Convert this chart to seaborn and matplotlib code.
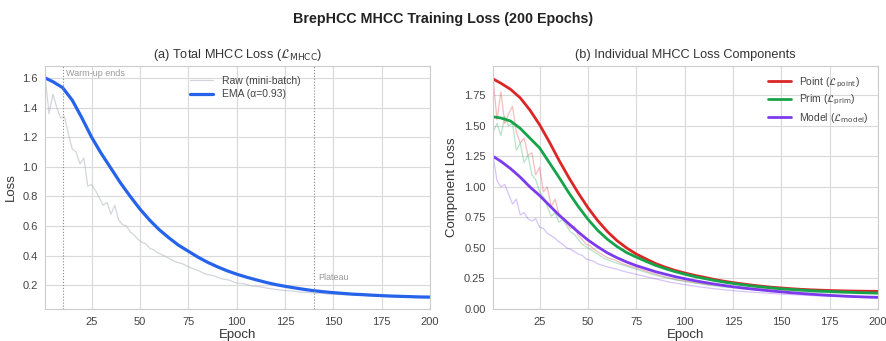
import numpy as np
import pandas as pd
import matplotlib
matplotlib.use("Agg")
import matplotlib.pyplot as plt
import seaborn as sns

# Епохи для "сирих" (mini-batch) значень та для EMA
raw_epochs = list(range(1, 60, 2)) + list(range(60, 201, 4))
ema_epochs = [1] + list(range(5, 201, 5))

# (a) Загальний лосс
total_raw = [1.60, 1.36, 1.49, 1.40, 1.33, 1.34, 1.22, 1.12, 1.10, 1.02,
             1.06, 0.87, 0.88, 0.84, 0.79, 0.74, 0.76, 0.68, 0.74, 0.64,
             0.61, 0.60, 0.56, 0.54, 0.51, 0.49, 0.48, 0.45, 0.44, 0.42,
             0.415, 0.39, 0.36, 0.345, 0.32, 0.30, 0.275, 0.265, 0.245, 0.235,
             0.215, 0.21, 0.195, 0.19, 0.18, 0.172, 0.165, 0.162, 0.155, 0.152,
             0.148, 0.145, 0.14, 0.138, 0.135, 0.133, 0.13, 0.128, 0.126, 0.124,
             0.122, 0.12, 0.119, 0.117, 0.116, 0.115]
total_ema = [1.60, 1.575, 1.535, 1.45, 1.33, 1.20, 1.09, 0.99, 0.89, 0.80,
             0.715, 0.64, 0.575, 0.52, 0.47, 0.43, 0.39, 0.355, 0.325, 0.298,
             0.275, 0.255, 0.237, 0.22, 0.205, 0.193, 0.182, 0.172, 0.163, 0.156,
             0.15, 0.145, 0.14, 0.137, 0.133, 0.13, 0.127, 0.125, 0.123, 0.121,
             0.12]

# (b) Окремі компоненти
point_raw = [1.88, 1.55, 1.78, 1.52, 1.60, 1.66, 1.45, 1.36, 1.40, 1.26,
             1.28, 1.10, 1.16, 0.96, 1.00, 0.84, 0.90, 0.78, 0.74, 0.70,
             0.66, 0.68, 0.60, 0.57, 0.53, 0.52, 0.49, 0.47, 0.45, 0.43,
             0.42, 0.40, 0.37, 0.35, 0.33, 0.31, 0.29, 0.27, 0.255, 0.24,
             0.23, 0.22, 0.21, 0.20, 0.195, 0.19, 0.182, 0.178, 0.172, 0.168,
             0.164, 0.16, 0.157, 0.154, 0.151, 0.149, 0.147, 0.145, 0.143, 0.141,
             0.14, 0.139, 0.138, 0.137, 0.136, 0.135]
prim_raw = [1.45, 1.52, 1.42, 1.58, 1.50, 1.52, 1.30, 1.36, 1.20, 1.26,
            1.10, 1.06, 0.96, 0.92, 0.84, 0.76, 0.79, 0.71, 0.73, 0.68,
            0.63, 0.61, 0.57, 0.53, 0.51, 0.49, 0.47, 0.45, 0.43, 0.41,
            0.405, 0.38, 0.36, 0.34, 0.32, 0.30, 0.28, 0.265, 0.25, 0.235,
            0.225, 0.215, 0.205, 0.195, 0.188, 0.18, 0.174, 0.168, 0.162, 0.158,
            0.154, 0.15, 0.147, 0.144, 0.141, 0.139, 0.137, 0.135, 0.133, 0.131,
            0.13, 0.128, 0.127, 0.126, 0.125, 0.124]
model_raw = [1.25, 1.05, 1.00, 1.02, 0.94, 0.86, 0.90, 0.77, 0.79, 0.74,
             0.72, 0.74, 0.67, 0.66, 0.62, 0.60, 0.58, 0.55, 0.53, 0.50,
             0.49, 0.47, 0.45, 0.44, 0.41, 0.40, 0.39, 0.37, 0.36, 0.35,
             0.345, 0.33, 0.31, 0.295, 0.28, 0.265, 0.25, 0.235, 0.22, 0.21,
             0.20, 0.19, 0.18, 0.172, 0.165, 0.158, 0.152, 0.146, 0.141, 0.136,
             0.132, 0.128, 0.124, 0.12, 0.117, 0.114, 0.111, 0.108, 0.106, 0.104,
             0.102, 0.10, 0.098, 0.096, 0.094, 0.092]

point_ema = [1.885, 1.85, 1.80, 1.73, 1.63, 1.51, 1.37, 1.22, 1.08, 0.95,
             0.83, 0.725, 0.635, 0.56, 0.50, 0.45, 0.41, 0.372, 0.342, 0.316,
             0.295, 0.276, 0.26, 0.243, 0.228, 0.216, 0.205, 0.195, 0.186, 0.178,
             0.172, 0.166, 0.161, 0.157, 0.154, 0.151, 0.149, 0.147, 0.146, 0.145,
             0.144]
prim_ema = [1.575, 1.565, 1.54, 1.48, 1.40, 1.32, 1.20, 1.08, 0.955, 0.84,
            0.735, 0.645, 0.572, 0.512, 0.462, 0.425, 0.39, 0.357, 0.33, 0.306,
            0.285, 0.266, 0.25, 0.235, 0.221, 0.209, 0.198, 0.188, 0.18, 0.172,
            0.165, 0.16, 0.155, 0.15, 0.146, 0.143, 0.14, 0.137, 0.134, 0.132,
            0.13]
model_ema = [1.25, 1.21, 1.15, 1.08, 1.00, 0.93, 0.85, 0.77, 0.70, 0.63,
             0.565, 0.51, 0.46, 0.42, 0.385, 0.355, 0.33, 0.305, 0.285, 0.265,
             0.248, 0.232, 0.218, 0.205, 0.193, 0.182, 0.172, 0.163, 0.155, 0.147,
             0.14, 0.133, 0.127, 0.121, 0.116, 0.111, 0.107, 0.103, 0.10, 0.097,
             0.095]

components = [
    ("Point", r"Point ($\mathcal{L}_{\mathrm{point}}$)", point_raw, point_ema, "#dc2626"),
    ("Prim", r"Prim ($\mathcal{L}_{\mathrm{prim}}$)", prim_raw, prim_ema, "#16a34a"),
    ("Model", r"Model ($\mathcal{L}_{\mathrm{model}}$)", model_raw, model_ema, "#7c3aed"),
]

sns.set_style("whitegrid", {"grid.color": "#d9d9d9", "axes.edgecolor": "#cccccc"})
plt.rcParams["font.family"] = ["Liberation Sans", "DejaVu Sans"]
plt.rcParams["mathtext.fontset"] = "dejavusans"

fig, (ax1, ax2) = plt.subplots(1, 2, figsize=(8.86, 3.41), dpi=100)
fig.subplots_adjust(left=0.051, right=0.991, bottom=0.094, top=0.806, wspace=0.164)

# (a)
sns.lineplot(x=raw_epochs, y=total_raw, ax=ax1, color="#b4b9c4", alpha=0.6,
             linewidth=0.9, label="Raw (mini-batch)")
sns.lineplot(x=ema_epochs, y=total_ema, ax=ax1, color="#2563eb",
             linewidth=2.3, label="EMA (α=0.93)")
ax1.axvline(10, color="#888888", linestyle=":", linewidth=0.8)
ax1.axvline(140, color="#888888", linestyle=":", linewidth=0.8)
ax1.text(12, 1.63, "Warm-up ends", fontsize=6.5, color="#999999", va="center")
ax1.text(142, 0.255, "Plateau", fontsize=6.5, color="#999999", va="center")
ax1.set_xlim(1, 200)
ax1.set_ylim(0.04, 1.68)
ax1.set_xticks([25, 50, 75, 100, 125, 150, 175, 200])
ax1.set_yticks([0.2, 0.4, 0.6, 0.8, 1.0, 1.2, 1.4, 1.6])
ax1.set_title(r"(a) Total MHCC Loss ($\mathcal{L}_{\mathrm{MHCC}}$)", fontsize=9.2, color="#333333")
ax1.set_xlabel("Epoch", fontsize=9.5, color="#333333", labelpad=2)
ax1.set_ylabel("Loss", fontsize=9.5, color="#333333", labelpad=4)
ax1.legend(loc="upper center", frameon=False, fontsize=7.5, labelcolor="#444444",
           bbox_to_anchor=(0.52, 1.0), handlelength=2.2, labelspacing=0.35)

# (b)
for name, label, raw, ema, color in components:
    sns.lineplot(x=raw_epochs, y=raw, ax=ax2, color=color, alpha=0.3, linewidth=0.9)
for name, label, raw, ema, color in components:
    sns.lineplot(x=ema_epochs, y=ema, ax=ax2, color=color, linewidth=2.0, label=label)
ax2.set_xlim(1, 200)
ax2.set_ylim(0, 1.99)
ax2.set_xticks([25, 50, 75, 100, 125, 150, 175, 200])
ax2.set_yticks([0.0, 0.25, 0.5, 0.75, 1.0, 1.25, 1.5, 1.75])
ax2.yaxis.set_major_formatter(matplotlib.ticker.FormatStrFormatter("%.2f"))
ax2.set_title("(b) Individual MHCC Loss Components", fontsize=9.2, color="#333333")
ax2.set_xlabel("Epoch", fontsize=9.5, color="#333333", labelpad=2)
ax2.set_ylabel("Component Loss", fontsize=9.5, color="#333333", labelpad=4)
ax2.legend(loc="upper right", frameon=False, fontsize=7.5, labelcolor="#444444",
           handlelength=2.2, labelspacing=0.3)

for ax in (ax1, ax2):
    ax.tick_params(axis="both", labelsize=8, colors="#444444", pad=2)
    for s in ax.spines.values():
        s.set_color("#cccccc")

fig.suptitle("BrepHCC MHCC Training Loss (200 Epochs)", fontsize=10.3, fontweight="bold",
             y=0.965, color="#222222")

fig.savefig("out.png", dpi=100)
